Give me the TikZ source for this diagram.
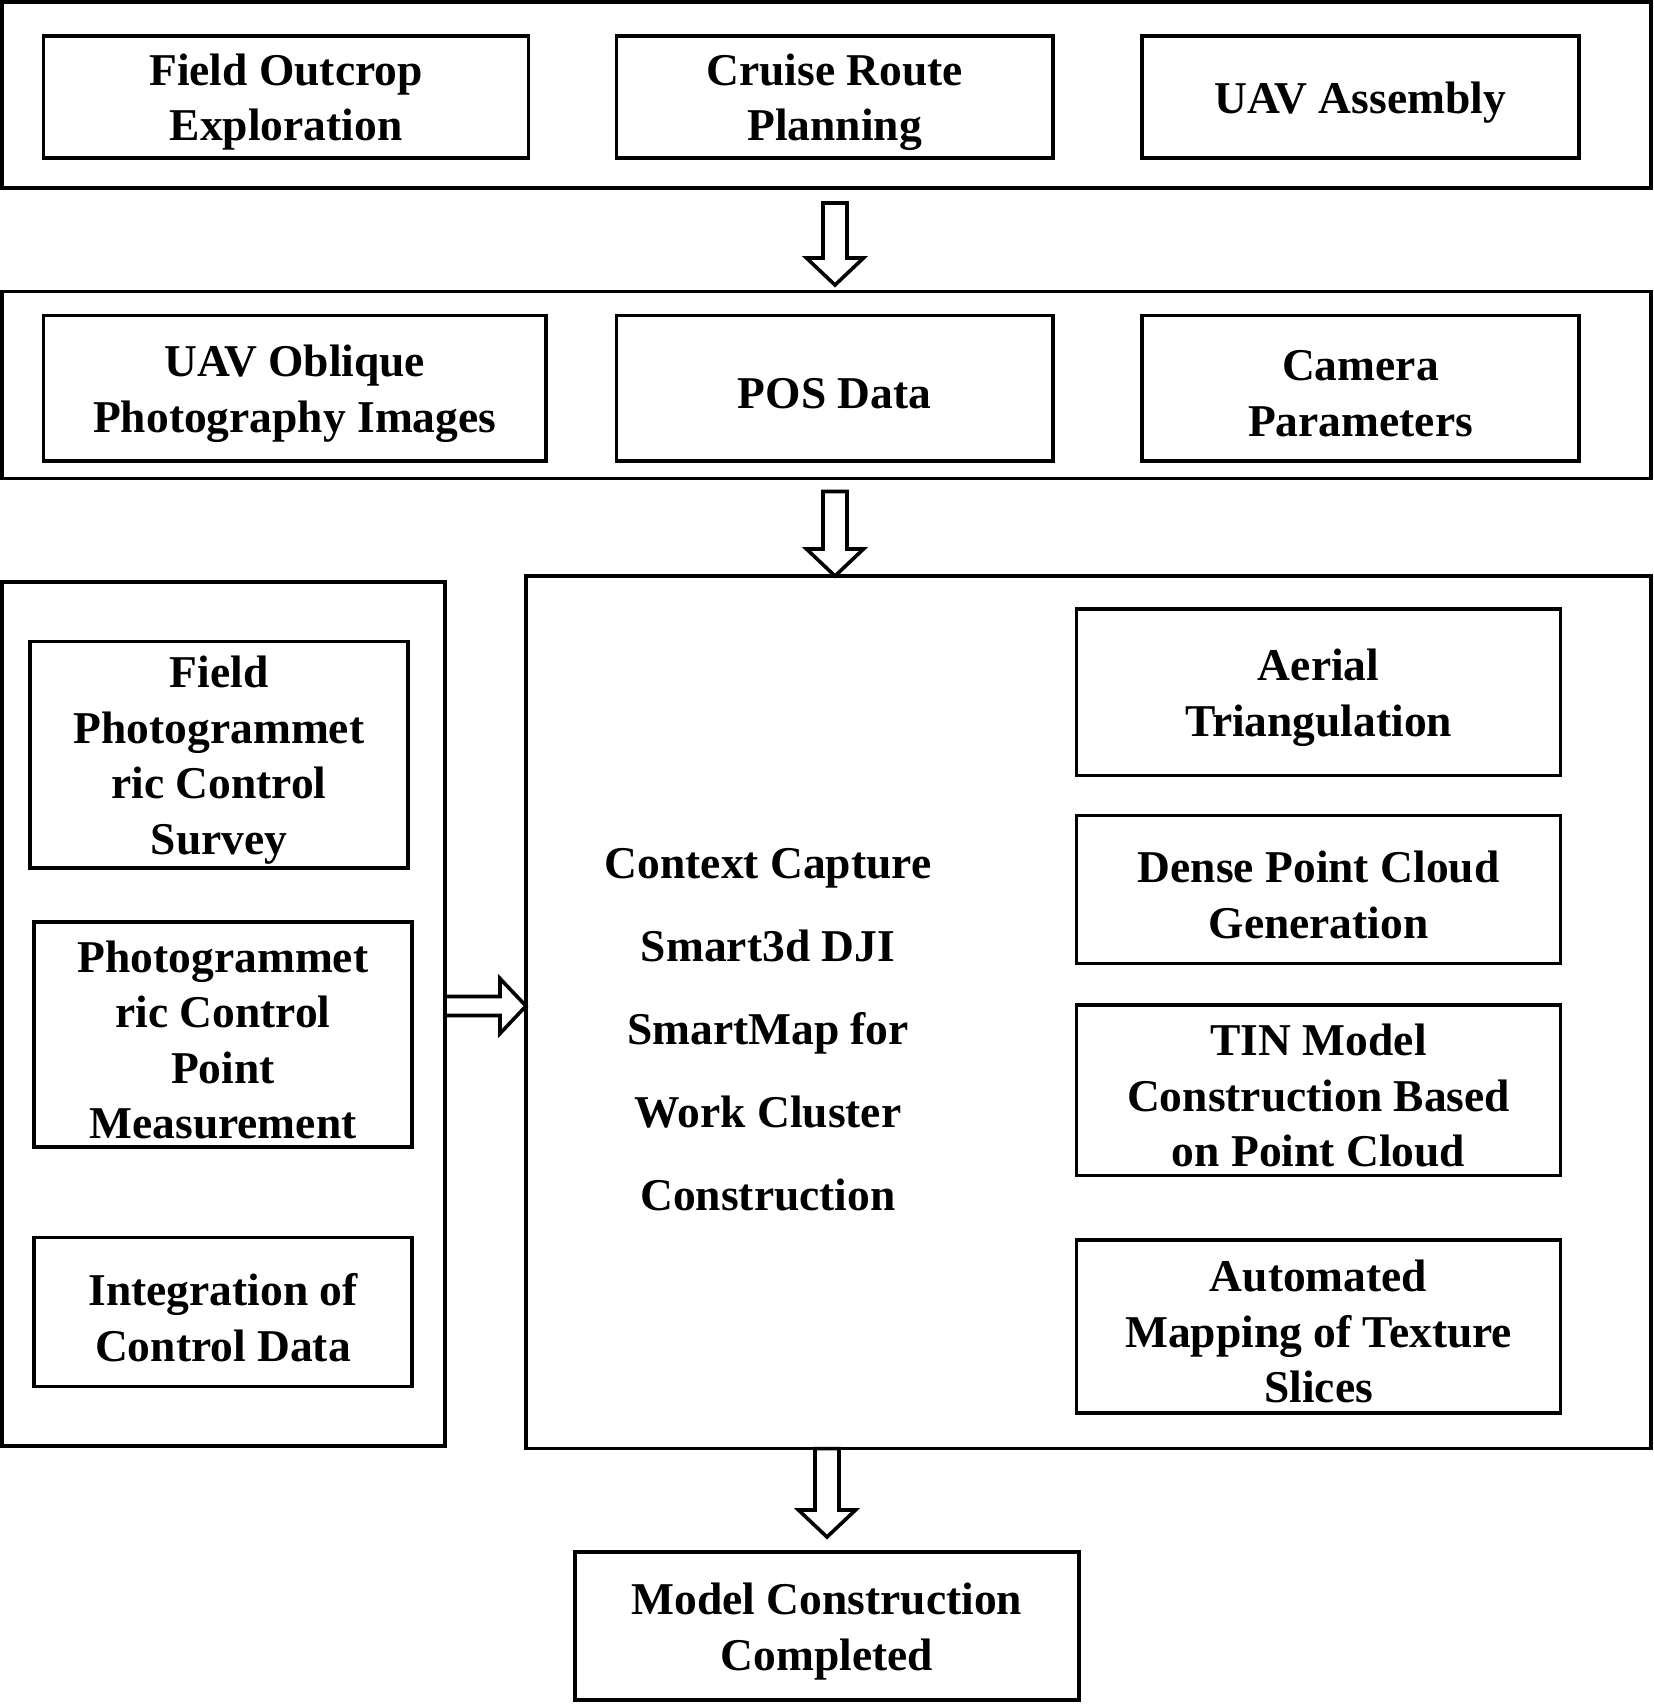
\documentclass[tikz,border=0pt]{standalone}
\usepackage{fontspec}
\setmainfont{Liberation Serif}
\usetikzlibrary{calc}
\newcommand\dnarrow[2]{%
  \path[blockarrow] let \p1=(#1), \p2=(#2) in
    (\x1-12pt,\y1) -- (\x1-12pt,\y2+27pt) -- (\x1-28.5pt,\y2+27pt) -- (\x1,\y2)
    -- (\x1+28.5pt,\y2+27pt) -- (\x1+12pt,\y2+27pt) -- (\x1+12pt,\y1) -- cycle;}
\newcommand\rtarrow[2]{%
  \path[blockarrow] let \p1=(#1), \p2=(#2) in
    (\x1,\y1-9.5pt) -- (\x2-26pt,\y1-9.5pt) -- (\x2-26pt,\y1-27.5pt) -- (\x2,\y1)
    -- (\x2-26pt,\y1+27.5pt) -- (\x2-26pt,\y1+9.5pt) -- (\x1,\y1+9.5pt) -- cycle;}
% box with text: name, centre, width, height, text
\newcommand\tbox[5]{%
  \node[frame, minimum width=#3, minimum height=#4] (#1) at (#2) {};
  \node[txt, yshift=-5.5pt] (#1t) at (#1.center) {#5};}
\begin{document}
\begin{tikzpicture}[x=1pt,y=1pt,
  lw/.style={line width=3.6pt},
  frame/.style={draw, lw, inner sep=0pt, outer sep=0pt},
  txt/.style={align=center, inner sep=0pt, font=\fontsize{45.5}{55.5}\selectfont\bfseries},
  blockarrow/.style={draw, lw, fill=white, line join=miter}]
\useasboundingbox (0,0) rectangle (1654,-1705);

% top row
\node[frame, minimum width=1649, minimum height=186] (top) at (826.5,-95) {};
\tbox{b11}{286,-96.8}{485}{121.8}{Field Outcrop\\Exploration}
\tbox{b12}{834.65,-96.8}{436.1}{121.8}{Cruise Route\\Planning}
\tbox{b13}{1360.45,-96.8}{437.1}{121.8}{UAV Assembly}

% second row
\node[frame, minimum width=1649, minimum height=187] (mid) at (826.5,-385) {};
\tbox{b21}{294.75,-388.2}{502.5}{145.6}{UAV Oblique\\Photography Images}
\tbox{b22}{834.65,-388.2}{436.1}{145.6}{POS Data}
\tbox{b23}{1360.45,-388.2}{437.1}{145.6}{Camera\\Parameters}

% left panel
\node[frame, minimum width=443, minimum height=864] (left) at (223.5,-1014) {};
\tbox{l1}{219,-754.8}{378}{226.4}{Field\\Photogrammet\\ric Control\\Survey}
\tbox{l2}{223,-1034.5}{378}{225}{Photogrammet\\ric Control\\Point\\Measurement}
\tbox{l3}{223,-1312.1}{378}{149}{Integration of\\Control Data}

% right panel
\node[frame, minimum width=1125, minimum height=872.6] (right) at (1088.5,-1012.3) {};
\node[txt, font=\fontsize{45.5}{83}\selectfont\bfseries] (ctx) at (768,-1029.5) {Context Capture\\Smart3d DJI\\SmartMap for\\Work Cluster\\Construction};
\tbox{r1}{1318.6,-692.2}{484}{166.4}{Aerial\\Triangulation}
\tbox{r2}{1318.6,-889.55}{484}{147.9}{Dense Point Cloud\\Generation}
\tbox{r3}{1318.6,-1090.25}{484}{170.7}{TIN Model\\Construction Based\\on Point Cloud}
\tbox{r4}{1318.6,-1326.25}{484}{172.9}{Automated\\Mapping of Texture\\Slices}

% bottom
\tbox{fin}{827,-1626}{504}{148}{Model Construction\\Completed}

% arrows
\coordinate (a1s) at ($(top.south)+(8.5,-15)$);
\coordinate (a1e) at ($(mid.north)+(8.5,6.5)$);
\dnarrow{a1s}{a1e}
\coordinate (a2s) at ($(mid.south)+(8.5,-13)$);
\coordinate (a2e) at (right.north -| a2s);
\dnarrow{a2s}{a2e}
\coordinate (a3s) at (right.south -| fin.north);
\coordinate (a3e) at ($(fin.north)+(0,15)$);
\dnarrow{a3s}{a3e}
\coordinate (a4s) at (left.east |- 0,-1006);
\coordinate (a4e) at (right.west |- 0,-1006);
\rtarrow{a4s}{a4e}
\end{tikzpicture}
\end{document}
